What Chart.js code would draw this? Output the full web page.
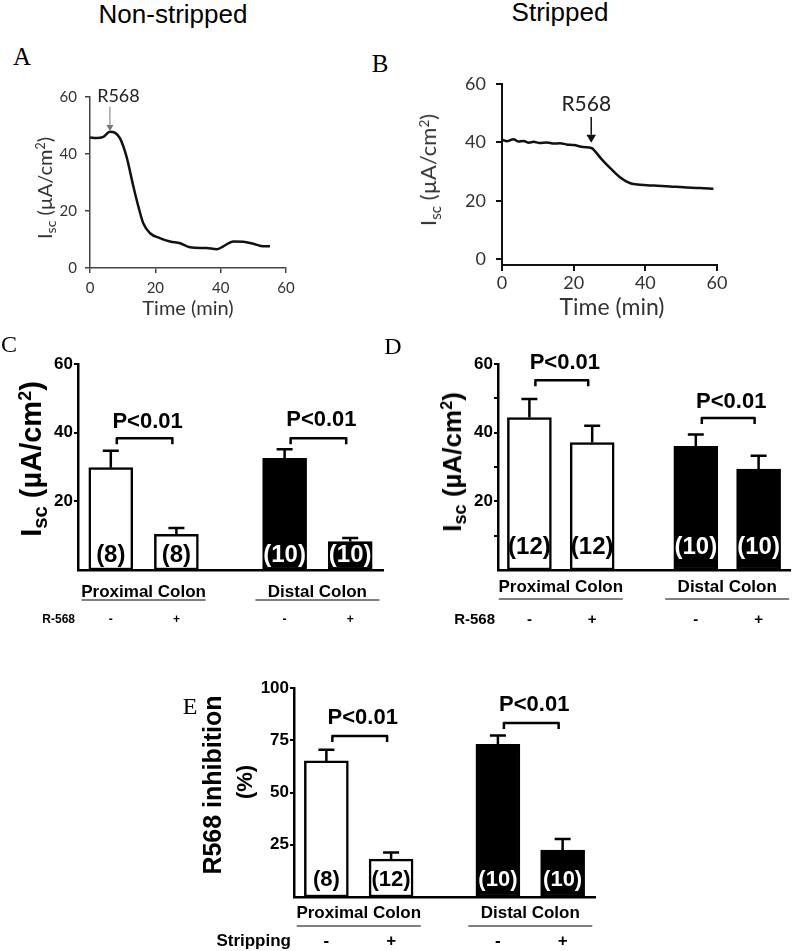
<!DOCTYPE html>
<html>
<head>
<meta charset="utf-8">
<script src="https://cdn.jsdelivr.net/npm/chart.js@4.4.0/dist/chart.umd.min.js"></script>
<style>
  body { margin: 0; width: 800px; height: 951px; position: relative; background: #fff; overflow: hidden; }
  canvas { position: absolute; }
  .t { position: absolute; transform: translate(-50%, -50%); white-space: nowrap; line-height: 1; }
  .r { position: absolute; transform: translate(-50%, -50%) rotate(-90deg); white-space: nowrap; line-height: 1; }
  .sans { font-family: "Liberation Sans", Arial, sans-serif; }
  .serif { font-family: "Liberation Serif", "Times New Roman", serif; }
  .cal { font-family: Lato, "Open Sans", sans-serif; color: #333; }
  .neg { font-family: "Liberation Sans", Arial, sans-serif; font-weight: bold; color: #000; }
  .sub { font-size: .7em; position: relative; top: .3em; }
  .sup { font-size: .62em; position: relative; top: -.55em; }
</style>
</head>
<body>

<canvas id="cA" width="310" height="240" style="left:0;top:80px"></canvas>
<canvas id="cB" width="330" height="245" style="left:400px;top:70px"></canvas>
<canvas id="cC" width="395" height="300" style="left:0;top:330px"></canvas>
<canvas id="cD" width="405" height="300" style="left:395px;top:330px"></canvas>
<canvas id="cE" width="420" height="291" style="left:190px;top:660px"></canvas>

<!-- titulos y letras de panel -->
<div class="t sans" style="left:173px;top:14px;font-size:26px">Non-stripped</div>
<div class="t sans" style="left:560px;top:12px;font-size:26px">Stripped</div>
<div class="t serif" style="left:22px;top:56px;font-size:25px">A</div>
<div class="t serif" style="left:380px;top:63px;font-size:25px">B</div>
<div class="t serif" style="left:9px;top:344px;font-size:24px">C</div>
<div class="t serif" style="left:393px;top:346px;font-size:24px">D</div>
<div class="t serif" style="left:190px;top:706px;font-size:24px">E</div>

<!-- titulos de ejes -->
<div class="r cal" style="left:44px;top:188px;font-size:20px">I<span class="sub">sc</span> (µA/cm<span class="sup">2</span>)</div>
<div class="t cal" style="left:188px;top:307px;font-size:20px">Time (min)</div>
<div class="r cal" style="left:428px;top:170px;font-size:22px">I<span class="sub">sc</span> (µA/cm<span class="sup">2</span>)</div>
<div class="t cal" style="left:612px;top:306px;font-size:23px">Time (min)</div>
<div class="r neg" style="left:31px;top:459px;font-size:29px">I<span class="sub">sc</span> (µA/cm<span class="sup">2</span>)</div>
<div class="r neg" style="left:452px;top:462px;font-size:26px">I<span class="sub">sc</span> (µA/cm<span class="sup">2</span>)</div>
<div class="r neg" style="left:212px;top:785px;font-size:25px">R568 inhibition</div>
<div class="r neg" style="left:245px;top:782px;font-size:22px">(%)</div>

<script>
// Trazos de corriente (A: no desnudado, B: desnudado)
const tiempoA = [0, 2, 4.1, 6.1, 7.7, 9.2, 11.2, 13.3, 14.8, 16.3, 18.4, 21.4, 24.5, 27.6, 30.6, 35.7, 38.8, 40.8, 43.9, 46.9, 50, 53.1, 55.1]
const iscA = [45.8, 45.6, 46, 47.8, 47.4, 45.5, 39, 28.5, 21.6, 15.7, 12.2, 10.5, 9.3, 8.7, 7.3, 7, 6.6, 7.6, 9.3, 9.2, 8.5, 7.6, 7.6]
const tiempoB = [0, 1.5, 3.2, 4.5, 6, 7.5, 8.8, 10.5, 12.5, 14.5, 16.2, 18, 20, 22.7, 25.1, 26, 27.9, 30.2, 33, 35.8, 38.5, 42.3, 46.9, 50.6, 55.3, 59]
const iscB = [40.9, 40.4, 41.1, 40.3, 40.5, 39.9, 40.2, 39.8, 40.0, 39.6, 39.7, 39.3, 39.1, 38.4, 38.0, 36.9, 34.1, 31.2, 28.0, 26.0, 25.5, 25.2, 24.9, 24.6, 24.4, 24.1]
const ticksTiempo = [0, 20, 40, 60]
const ticksLinea = [0, 20, 40, 60]

// Barras (C, D, E)
const grupos = ['Proximal Colon', 'Distal Colon']
const signos = ['-', '+', '-', '+']
const colores = ['#fff', '#fff', '#000', '#000']
const mediaC = [29.8, 10.4, 32.5, 8.3]
const errorC = [4.9, 1.8, 2.7, 1.0]
const nC = [8, 8, 10, 10]
const mediaD = [44.4, 37.1, 36.0, 29.4]
const errorD = [5.4, 4.9, 3.5, 3.9]
const nD = [12, 12, 10, 10]
const mediaE = [65.1, 18.1, 73.1, 22.4]
const errorE = [5.3, 3.2, 4.2, 5.3]
const nE = [8, 12, 10, 10]
const ticksC = [20, 40, 60]
const ticksD = [10, 20, 30, 40, 50, 60]
const etiquetasIsc = [20, 40, 60]
const ticksE = [25, 50, 75, 100]
const textoP = 'P<0.01'

const fam = '"Liberation Sans", Arial, sans-serif'

// posicion de cada barra en el eje x (dos grupos separados)
const posicion = i => Math.floor(i / 2) * 2.65 + (i % 2) + 0.5

//Plugin flecha R568 en los trazos
const flechaR568 = {
    id: 'flechaR568',
    afterDraw(chart, args, o) {
        const { ctx, scales: { x, y } } = chart
        const px = x.getPixelForValue(o.t)
        const y0 = y.getPixelForValue(o.desde)
        const y1 = y.getPixelForValue(o.hasta)
        ctx.save()
        ctx.strokeStyle = o.color
        ctx.fillStyle = o.color
        ctx.lineWidth = o.ancho
        ctx.beginPath()
        ctx.moveTo(px, y0)
        ctx.lineTo(px, y1 - o.punta)
        ctx.stroke()
        ctx.beginPath()
        ctx.moveTo(px - o.punta * 0.6, y1 - o.punta)
        ctx.lineTo(px + o.punta * 0.6, y1 - o.punta)
        ctx.lineTo(px, y1)
        ctx.closePath()
        ctx.fill()
        ctx.font = o.fuente
        ctx.fillStyle = '#222'
        ctx.textAlign = 'center'
        ctx.textBaseline = 'middle'
        ctx.fillText('R568', px + o.dx, y.getPixelForValue(o.texto))
        ctx.restore()
    }
}

//Plugin barras de error, n, corchetes P y etiquetas bajo el eje
const barExtras = {
    id: 'barExtras',
    afterDraw(chart, args, o) {
        const { ctx, chartArea, scales: { y } } = chart
        const ds = chart.data.datasets[0]
        const barras = chart.getDatasetMeta(0).data
        const base = chartArea.bottom
        ctx.save()
        ctx.strokeStyle = '#000'
        ctx.lineWidth = 2.5
        barras.forEach((b, i) => {
            const tope = y.getPixelForValue(ds.data[i].y + o.errores[i])
            ctx.beginPath()
            ctx.moveTo(b.x, b.y)
            ctx.lineTo(b.x, tope)
            ctx.moveTo(b.x - 8, tope)
            ctx.lineTo(b.x + 8, tope)
            ctx.stroke()
        })
        ctx.textAlign = 'center'
        ctx.textBaseline = 'middle'
        ctx.font = `bold ${o.nTam}px ${fam}`
        barras.forEach((b, i) => {
            ctx.fillStyle = colores[i] === '#000' ? '#fff' : '#000'
            ctx.fillText('(' + o.n[i] + ')', b.x, base - o.nDy)
        })
        ctx.fillStyle = '#000'
        ctx.font = `bold 22px ${fam}`
        ctx.lineJoin = 'round'
        o.corchetes.forEach(c => {
            const x1 = barras[c.de].x + 6
            const x2 = barras[c.a].x - 4
            const yc = y.getPixelForValue(c.nivel)
            ctx.beginPath()
            ctx.moveTo(x1, yc + 6)
            ctx.lineTo(x1, yc)
            ctx.lineTo(x2, yc)
            ctx.lineTo(x2, yc + 6)
            ctx.stroke()
            ctx.fillText(textoP, (x1 + x2) / 2 + 3, y.getPixelForValue(c.texto))
        })
        ctx.font = `bold 17px ${fam}`
        grupos.forEach((g, k) => {
            const cx = (barras[2 * k].x + barras[2 * k + 1].x) / 2
            ctx.fillText(g, cx, base + o.grupoDy)
            ctx.save()
            ctx.strokeStyle = '#555'
            ctx.lineWidth = 1.3
            ctx.beginPath()
            ctx.moveTo(cx - 62, base + o.lineaDy)
            ctx.lineTo(cx + 62, base + o.lineaDy)
            ctx.stroke()
            ctx.restore()
        })
        ctx.font = `bold ${o.filaTam}px ${fam}`
        signos.forEach((s, i) => ctx.fillText(s, barras[i].x, base + o.filaDy))
        ctx.textAlign = 'right'
        ctx.fillText(o.fila, chartArea.left - 3, base + o.filaDy)
        ctx.restore()
    }
}

// ancho fijo del eje y, sin margen extra por las etiquetas
const fijarAncho = ancho => s => {
    s.width = ancho
    s.paddingTop = 0
    s.paddingBottom = 0
}
const fijarAlto = alto => s => {
    s.height = alto
    s.paddingLeft = 0
    s.paddingRight = 0
}

const panelLinea = (id, tiempo, isc, cfg) => new Chart(document.querySelector(id), {
    type: 'line',
    data: {
        datasets: [{
            data: tiempo.map((t, i) => ({ x: t, y: isc[i] })),
            borderColor: '#111',
            borderWidth: cfg.grosor,
            pointRadius: 0,
            cubicInterpolationMode: 'monotone',
            fill: false
        }]
    },
    options: {
        responsive: false,
        animation: false,
        events: [],
        layout: { padding: { left: 0, top: cfg.arriba, right: cfg.derecha, bottom: 0 } },
        plugins: { legend: { display: false }, tooltip: { enabled: false }, flechaR568: cfg.flecha },
        scales: {
            x: {
                type: 'linear', min: 0, max: 60,
                grid: { drawOnChartArea: false, color: cfg.eje, lineWidth: cfg.ejeAncho, tickLength: cfg.tl },
                border: { color: cfg.eje, width: cfg.ejeAncho },
                ticks: { color: '#333', padding: cfg.padX, maxRotation: 0, font: { family: 'Lato', size: cfg.fuente } },
                afterBuildTicks: s => { s.ticks = ticksTiempo.map(v => ({ value: v })) },
                afterFit: fijarAlto(cfg.altoX)
            },
            y: {
                min: cfg.yMin, max: 60,
                grid: { drawOnChartArea: false, color: cfg.eje, lineWidth: cfg.ejeAncho, tickLength: cfg.tl },
                border: { color: cfg.eje, width: cfg.ejeAncho },
                ticks: { color: '#333', padding: cfg.padY, font: { family: 'Lato', size: cfg.fuente } },
                afterBuildTicks: s => { s.ticks = ticksLinea.map(v => ({ value: v })) },
                afterFit: fijarAncho(cfg.anchoY)
            }
        }
    },
    plugins: [flechaR568]
})

const panelBarras = (id, medias, cfg) => new Chart(document.querySelector(id), {
    type: 'bar',
    data: {
        datasets: [{
            data: medias.map((m, i) => ({ x: posicion(i), y: m })),
            backgroundColor: colores,
            borderColor: '#000',
            borderWidth: 2.5,
            borderSkipped: false,
            barThickness: 44
        }]
    },
    options: {
        responsive: false,
        animation: false,
        events: [],
        layout: { padding: { left: 0, top: cfg.arriba, right: cfg.derecha, bottom: cfg.abajo } },
        plugins: { legend: { display: false }, tooltip: { enabled: false }, barExtras: cfg.extras },
        scales: {
            x: {
                type: 'linear', min: 0, max: 4.65, offset: false,
                grid: { drawOnChartArea: false, drawTicks: false },
                border: { color: '#000', width: 2.5 },
                ticks: { display: false },
                afterFit: fijarAlto(0)
            },
            y: {
                min: 0, max: cfg.yMax,
                grid: { drawOnChartArea: false, color: '#000', lineWidth: 2, tickLength: 4 },
                border: { color: '#000', width: 2.5 },
                ticks: {
                    color: '#000', padding: 1,
                    font: { family: '"Liberation Sans", Arial', weight: 'bold', size: 17 },
                    callback: v => cfg.etiquetas.includes(v) ? v : ''
                },
                afterBuildTicks: s => { s.ticks = cfg.ticks.map(v => ({ value: v })) },
                afterFit: fijarAncho(cfg.anchoY)
            }
        }
    },
    plugins: [barExtras]
})

panelLinea('#cA', tiempoA, iscA, {
    grosor: 2.5, arriba: 17, derecha: 24, anchoY: 90, altoX: 52, yMin: 0,
    eje: '#444', ejeAncho: 1.5, tl: 5, padX: 6, padY: 8, fuente: 15,
    flecha: { t: 6.1, desde: 56.6, hasta: 48.1, texto: 60.2, dx: 8.5, color: '#777', ancho: 1, punta: 6, fuente: '18px Lato' }
})

panelLinea('#cB', tiempoB, iscB, {
    grosor: 2.5, arriba: 14, derecha: 13, anchoY: 102, altoX: 50, yMin: -2,
    eje: '#111', ejeAncho: 2, tl: 6, padX: 1, padY: 10, fuente: 18,
    flecha: { t: 24.9, desde: 48.7, hasta: 39.9, texto: 53.2, dx: -5, color: '#111', ancho: 1.5, punta: 8, fuente: '21px Lato' }
})

panelBarras('#cC', mediaC, {
    arriba: 34, derecha: 12, abajo: 60, anchoY: 78, yMax: 60, ticks: ticksC, etiquetas: etiquetasIsc,
    extras: {
        errores: errorC, n: nC, nTam: 24, nDy: 15,
        corchetes: [{ de: 0, a: 1, nivel: 38.4, texto: 43.1 }, { de: 2, a: 3, nivel: 38.4, texto: 43.7 }],
        grupoDy: 22, lineaDy: 30, filaDy: 50, filaTam: 12, fila: 'R-568'
    }
})

panelBarras('#cD', mediaD, {
    arriba: 34, derecha: 10, abajo: 60, anchoY: 103, yMax: 60, ticks: ticksD, etiquetas: etiquetasIsc,
    extras: {
        errores: errorD, n: nD, nTam: 24, nDy: 23,
        corchetes: [{ de: 0, a: 1, nivel: 55.3, texto: 60.3 }, { de: 2, a: 3, nivel: 44.3, texto: 48.9 }],
        grupoDy: 17, lineaDy: 29, filaDy: 50, filaTam: 15, fila: 'R-568'
    }
})

panelBarras('#cE', mediaE, {
    arriba: 28, derecha: 15, abajo: 54, anchoY: 104, yMax: 100, ticks: ticksE, etiquetas: ticksE,
    extras: {
        errores: errorE, n: nE, nTam: 22, nDy: 17,
        corchetes: [{ de: 0, a: 1, nivel: 77.0, texto: 85.6 }, { de: 2, a: 3, nivel: 83.3, texto: 91.9 }],
        grupoDy: 16, lineaDy: 29, filaDy: 44, filaTam: 17, fila: 'Stripping'
    }
})
</script>
</body>
</html>
